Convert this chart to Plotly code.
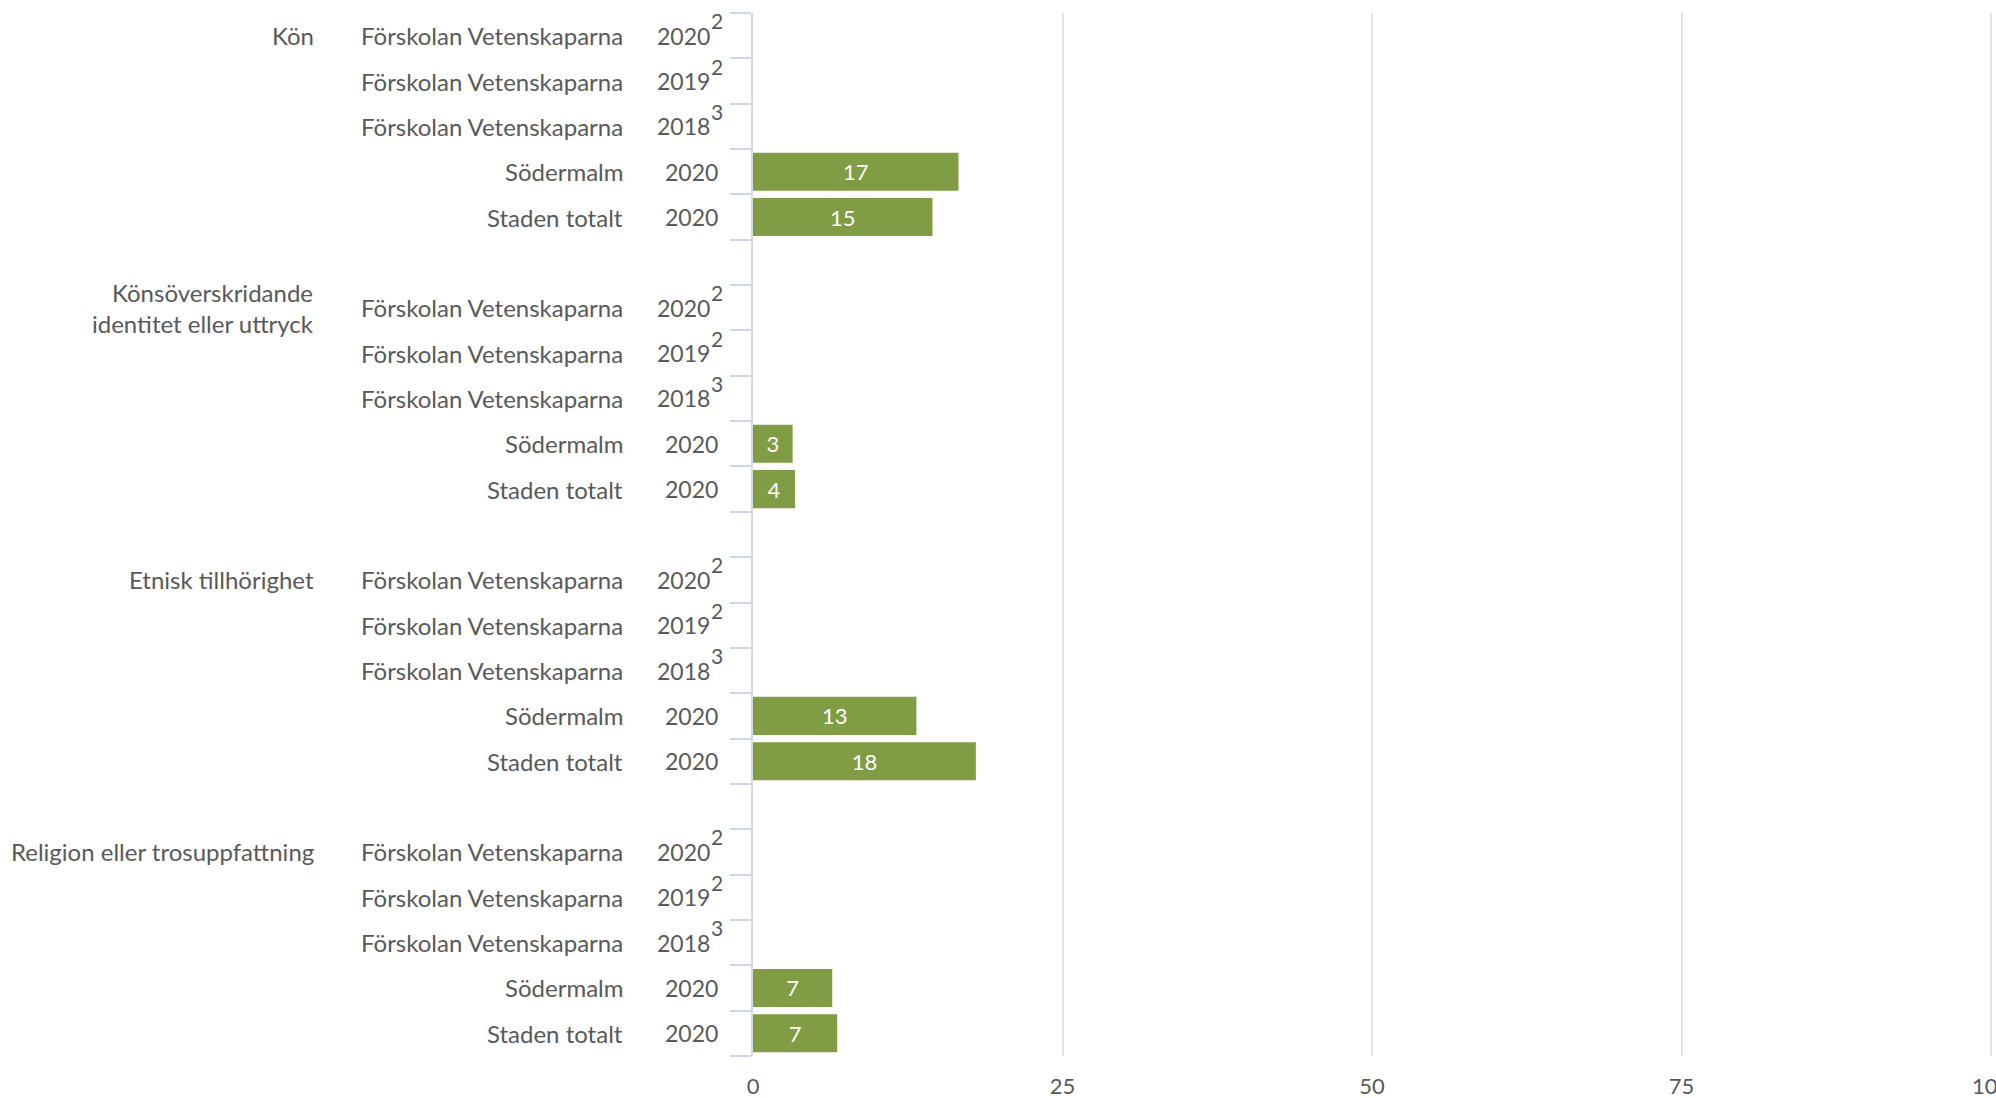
import plotly.graph_objects as go

# ---- data ----
groups = ["Kön", "Könsöverskridande<br>identitet eller uttryck", "Etnisk tillhörighet",
          "Religion eller trosuppfattning"]
units = ["Förskolan Vetenskaparna", "Förskolan Vetenskaparna", "Förskolan Vetenskaparna",
         "Södermalm", "Staden totalt"]
years = ["2020", "2019", "2018", "2020", "2020"]
footnotes = ["2", "2", "3", "", ""]
values_kon = [None, None, None, 16.6, 14.5]
values_konsover = [None, None, None, 3.2, 3.4]
values_etnisk = [None, None, None, 13.2, 18.0]
values_religion = [None, None, None, 6.4, 6.8]
labels_kon = ["", "", "", "17", "15"]
labels_konsover = ["", "", "", "3", "4"]
labels_etnisk = ["", "", "", "13", "18"]
labels_religion = ["", "", "", "7", "7"]
x_ticks = [0, 25, 50, 75, 100]

all_values = [values_kon, values_konsover, values_etnisk, values_religion]
all_labels = [labels_kon, labels_konsover, labels_etnisk, labels_religion]

# ---- layout constants ----
W, H = 1996, 1098
ML, MR, MT, MB = 753, 2, 13, 42
FONT = "Lato"
TXT = "#595959"
BAR = "#809C45"
FS = 24

rows_per_group = len(units) + 1  # one blank row between groups
n_rows = len(groups) * rows_per_group - 1

ys, xs, texts = [], [], []
annotations = []
for g, grp in enumerate(groups):
    for r, unit in enumerate(units):
        pos = g * rows_per_group + r
        if all_values[g][r] is not None:
            ys.append(pos)
            xs.append(all_values[g][r])
            texts.append(all_labels[g][r])
        annotations.append(dict(x=0, xref="paper", y=pos, yref="y", text=unit,
                                xanchor="right", yanchor="middle", xshift=-(ML - 625),
                                showarrow=False, font=dict(family=FONT, size=FS, color=TXT)))
        right = 720 if not footnotes[r] else 712
        annotations.append(dict(x=0, xref="paper", y=pos, yref="y", text=years[r],
                                xanchor="right", yanchor="middle", xshift=-(ML - right),
                                showarrow=False, font=dict(family=FONT, size=FS - 1, color=TXT)))
        if footnotes[r]:
            annotations.append(dict(x=0, xref="paper", y=pos, yref="y", text=footnotes[r],
                                    xanchor="left", yanchor="middle", xshift=-(ML - right) - 3,
                                    yshift=15, showarrow=False,
                                    font=dict(family=FONT, size=21, color=TXT)))
    annotations.append(dict(x=0, xref="paper", y=g * rows_per_group,
                            yref="y", text=grp, align="right",
                            xanchor="right", yanchor="middle", xshift=-(ML - 316),
                            showarrow=False, font=dict(family=FONT, size=FS, color=TXT)))

fig = go.Figure(go.Bar(
    x=xs, y=ys, orientation="h", width=0.84,
    marker=dict(color=BAR, line=dict(width=0)),
    text=texts, textposition="inside", insidetextanchor="middle",
    textfont=dict(family=FONT, size=22, color="white"),
    hoverinfo="skip", cliponaxis=False,
))

fig.update_layout(
    width=W, height=H, margin=dict(l=ML, r=MR, t=MT, b=MB, autoexpand=False),
    plot_bgcolor="white", paper_bgcolor="white",
    showlegend=False, annotations=annotations,
    font=dict(family=FONT, size=FS, color=TXT),
)
fig.update_xaxes(range=[0, 100.24], tickvals=x_ticks, showgrid=True, gridcolor="#E3E3E3",
                 gridwidth=2, zeroline=False, showline=False, ticks="",
                 ticklabelstandoff=15, ticklabeloverflow="allow", automargin=False,
                 tickfont=dict(family=FONT, size=22, color=TXT))
fig.update_yaxes(range=[n_rows - 0.5, -0.5], tickvals=[k - 0.5 for k in range(n_rows + 1)],
                 showticklabels=False, ticks="outside", ticklen=21, tickwidth=2,
                 tickcolor="#C9D6EC", showgrid=False, zeroline=False, automargin=False,
                 showline=True, linecolor="#D9D9D9", linewidth=2)

fig.write_html("out.html", config={"displayModeBar": False},
               post_script="document.body.style.margin='0';document.body.style.overflow='hidden';")
